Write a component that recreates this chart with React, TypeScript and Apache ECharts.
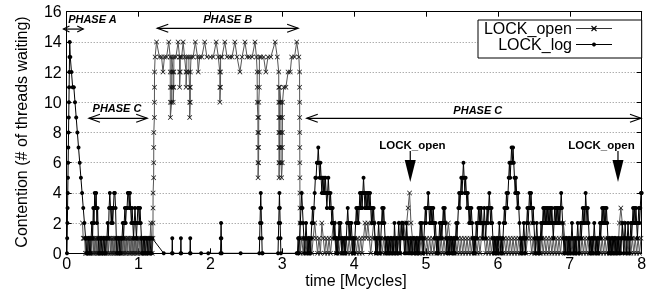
import { useEffect, useRef } from "react";
import * as echarts from "echarts";

// Each segment: [start time (Mcycles), time step, samples].
// Sample chars: 0-9, a-e = 10-14 threads; "." = empty slot; "[...]" = several samples in one slot.
type Seg = [number, number, string];

const xTicks = [0, 1, 2, 3, 4, 5, 6, 7, 8];
const yTicks = [0, 2, 4, 6, 8, 10, 12, 14, 16];

const logPhaseA: Seg[] = [
  [0.004, 0.0027, "0123456789abcde"],
  [0.05, 0.0164, "dcbba9876543210"],
];
const logPhaseC1: Seg[] = [
  [0.29, 0.01, "0110012132 4342310011 0011001121 3432323443 1001100112 1232334434 3232123212 3323210011 00110011001"],
];
const logPhaseB: Seg[] = [
  [1.35, 0.01, "0"],
  [1.465, 0.004, "010"],
  [1.585, 0.004, "010"],
  [1.715, 0.004, "010"],
  [1.87, 0.01, "0"],
  [1.97, 0.01, "0"],
  [2.14, 0.004, "01210"],
  [2.42, 0.01, "0"],
  [2.68, 0.005, "0123432100"],
  [2.94, 0.005, "012343210"],
];
const logPhaseC2: Seg[] = [
  [3.2, 0.01,
    "0010123432 1012101010 1232345566 7656545454 5434543432 3212101012 1210110101 2321212101 " +
    "0123232343 4345434343 4343232321 0101210123 2321010101 0110102101 0121012121 0102101010 " +
    "1011010101 0121210123 2334323232 3212101012 1212323210 1010110101 0121234345 4565454343 " +
    "2323210101 2123232321 2321232343 2321010101 0121010123 2343456567 6765454343 2101012101 " +
    "2323434323 2101210101 2123232323 2323232123 2323232343 2101011010 1012101010 1210121232 " +
    "3243232101 0101210101 0121232323 2321010101 0110101010 1012101210 1210121232 3232123234 4"],
];

const openPhaseC1: Seg[] = [
  [0.22, 0.01, "2111010101 0101101010 1010101101 0101010110 1010101010 1101010101 0101101010 1010101011 0101010101 1010121"],
];
const openPhaseB: Seg[] = [
  [1.19, 0.01,
    "0 [1234][5678][9abc]d.e...d ..d.c.d..d ..e.[dcba9].[abcd].[cba][bcd] ..d..e.[dcb][cd]. " +
    "d.e.d.[cb][cd].. [dc][ba9][abc]d..d..e ..dc.d..d. ..e..d.... d...d...e. .d.[cba][bcd].d... " +
    "e..d...d.. d...e..d.. .c..d...e. .d..d...d. ..e.d[cba][98765][6789a][bcd]. d...d..c.. " +
    "d...d..... e..d.[cba98765][6789ab].[a9876]5 [6789a].b..b..c. .c.d...d.. e..d[cba987654321]0"],
];
const openPhaseC2: Seg[] = [
  [3.27, 0.02,
    "10101 01012 10102 10101 01210 10101 01010 10101 01012 12101 21010 10101 01010 10102 12123 " +
    "42101 01010 10101 01010 10101 01210 10101 01010 10101 01010 12101 01010 10101 01010 10101 " +
    "01010 10121 01010 10101 01010 10101 01210 10101 01010 10101 01010 10101 01010 10101 02321 " +
    "01010 10101 01"],
];

const seriesNames = ["LOCK_open", "LOCK_log"];

function decode(segs: Seg[]): number[][] {
  const out: number[][] = [];
  for (const [x0, step, s] of segs) {
    let k = 0;
    let inGroup = false;
    let g = 0;
    for (const ch of s) {
      if (ch === " ") continue;
      if (ch === "[") { inGroup = true; g = 0; continue; }
      if (ch === "]") { inGroup = false; k++; continue; }
      if (ch === ".") { k++; continue; }
      const v = parseInt(ch, 16);
      const x = x0 + k * step + (inGroup ? g * step * 0.06 : 0);
      out.push([+x.toFixed(5), v]);
      if (inGroup) g++; else k++;
    }
  }
  return out;
}

const X_PATH = "path://M0,1L1,0L5,4L9,0L10,1L6,5L10,9L9,10L5,6L1,10L0,9L4,5Z";
const FONT = "'Liberation Sans', Arial, Helvetica, sans-serif";

export default function App() {
  const ref = useRef<HTMLDivElement>(null);
  useEffect(() => {
    const chart = echarts.init(ref.current!, null, { renderer: "svg" });
    const openData = decode([...openPhaseC1, ...openPhaseB, ...openPhaseC2]);
    const logData = decode([...logPhaseA, ...logPhaseC1, ...logPhaseB, ...logPhaseC2]);
    const axisLine = { show: true, onZero: false, lineStyle: { color: "#000", width: 1 } };
    const tick = { show: true, inside: true, length: 5, lineStyle: { color: "#000", width: 1 } };
    chart.setOption({
      animation: false,
      grid: { left: 66.7, right: 15.3, top: 11.7, bottom: 40.7, containLabel: false, outerBoundsMode: "none" },
      xAxis: [
        {
          type: "value", min: xTicks[0], max: xTicks[xTicks.length - 1], interval: 1, position: "bottom",
          axisLine, axisTick: tick,
          axisLabel: { color: "#000", fontSize: 16, fontFamily: FONT, margin: 2 },
          splitLine: { show: false },
        },
        {
          type: "value", min: xTicks[0], max: xTicks[xTicks.length - 1], interval: 1, position: "top",
          axisLine, axisTick: tick, axisLabel: { show: false }, splitLine: { show: false },
        },
      ],
      yAxis: [
        {
          type: "value", min: yTicks[0], max: yTicks[yTicks.length - 1], interval: 2, position: "left",
          axisLine, axisTick: tick,
          axisLabel: { color: "#000", fontSize: 16, fontFamily: FONT, margin: 5 },
          splitLine: { show: true, lineStyle: { color: "#8a8a8a", width: 1, type: [1, 2] } },
        },
        {
          type: "value", min: yTicks[0], max: yTicks[yTicks.length - 1], interval: 2, position: "right",
          axisLine, axisTick: tick, axisLabel: { show: false }, splitLine: { show: false },
        },
      ],
      series: [
        {
          name: seriesNames[0], type: "line", data: openData, silent: true,
          symbol: X_PATH, symbolSize: 5, showSymbol: true, showAllSymbol: true,
          lineStyle: { color: "#555", width: 1 }, itemStyle: { color: "#111" },
          emphasis: { disabled: true }, z: 2,
        },
        {
          name: seriesNames[1], type: "line", data: logData, silent: true,
          symbol: "circle", symbolSize: 4, showSymbol: true, showAllSymbol: true,
          lineStyle: { color: "#000", width: 1 }, itemStyle: { color: "#000" },
          emphasis: { disabled: true }, z: 3,
        },
      ],
    });

    const P = (x: number, y: number) =>
      chart.convertToPixel({ xAxisIndex: 0, yAxisIndex: 0 }, [x, y]) as number[];
    const g: any[] = [];
    const txt = (t: string, x: number, y: number, font: any, align = "center", extra: any = {}) =>
      g.push({
        type: "text", x, y, z: 100, ...extra,
        style: { text: t, fill: "#000", fontFamily: FONT, align, verticalAlign: "middle", ...font },
      });
    const dbl = (x1: number, x2: number, y: number, hl: number, hw: number) => {
      const a = P(x1, y), b = P(x2, y);
      const st = { stroke: "#000", lineWidth: 1.2, fill: null };
      g.push({ type: "line", z: 100, shape: { x1: a[0], y1: a[1], x2: b[0], y2: b[1] }, style: st });
      g.push({ type: "polyline", z: 100, shape: { points: [[a[0] + hl, a[1] - hw], [a[0], a[1]], [a[0] + hl, a[1] + hw]] }, style: st });
      g.push({ type: "polyline", z: 100, shape: { points: [[b[0] - hl, b[1] - hw], [b[0], b[1]], [b[0] - hl, b[1] + hw]] }, style: st });
    };
    const phaseFont = { fontSize: 11, fontWeight: "bold", fontStyle: "italic" };
    let p = P(0.02, 15.5); txt("PHASE A", p[0], p[1], phaseFont, "left");
    p = P(2.24, 15.5); txt("PHASE B", p[0], p[1], phaseFont);
    p = P(0.7, 9.65); txt("PHASE C", p[0], p[1], phaseFont);
    p = P(5.72, 9.5); txt("PHASE C", p[0], p[1], phaseFont);
    dbl(-0.045, 0.23, 14.85, 6, 3);
    dbl(1.26, 3.22, 14.9, 11, 4);
    dbl(0.31, 1.12, 8.94, 11, 4);
    dbl(3.34, 7.99, 8.94, 11, 4);

    const lockFont = { fontSize: 11.5, fontWeight: "bold" };
    const lockArrow = (xt: number, xa: number) => {
      const t = P(xt, 7.2);
      txt("LOCK_open", t[0], t[1], lockFont);
      const s = P(xa, 6.77), h = P(xa, 6.18), tip = P(xa, 4.72);
      g.push({ type: "line", z: 100, shape: { x1: s[0], y1: s[1], x2: h[0], y2: h[1] }, style: { stroke: "#000", lineWidth: 1.2 } });
      g.push({ type: "polygon", z: 100, shape: { points: [[h[0] - 5.5, h[1]], [h[0] + 5.5, h[1]], [tip[0], tip[1]]] }, style: { fill: "#000" } });
    };
    lockArrow(4.81, 4.78);
    lockArrow(7.44, 7.67);

    // legend box
    g.push({ type: "rect", z: 100, shape: { x: 478, y: 20, width: 163.7, height: 38 }, style: { fill: "#fff", stroke: "#000", lineWidth: 1 } });
    txt(seriesNames[0], 572, 28.5, { fontSize: 16 }, "right");
    txt(seriesNames[1], 572, 44.5, { fontSize: 16 }, "right");
    g.push({ type: "line", z: 101, shape: { x1: 576, y1: 28.5, x2: 612, y2: 28.5 }, style: { stroke: "#333", lineWidth: 1 } });
    g.push({ type: "line", z: 101, shape: { x1: 576, y1: 44.5, x2: 612, y2: 44.5 }, style: { stroke: "#000", lineWidth: 1 } });
    g.push({ type: "polyline", z: 102, shape: { points: [[591.5, 26], [596.5, 31]] }, style: { stroke: "#000", lineWidth: 1.1, fill: null } });
    g.push({ type: "polyline", z: 102, shape: { points: [[591.5, 31], [596.5, 26]] }, style: { stroke: "#000", lineWidth: 1.1, fill: null } });
    g.push({ type: "circle", z: 102, shape: { cx: 594, cy: 44.5, r: 2 }, style: { fill: "#000" } });

    // axis titles
    txt("time [Mcycles]", 356, 280, { fontSize: 16 });
    txt("Contention (# of threads waiting)", 21, 132, { fontSize: 16 }, "center", { rotation: Math.PI / 2 });

    chart.setOption({ graphic: g });
    return () => chart.dispose();
  }, []);
  return <div ref={ref} style={{ position: "fixed", left: 0, top: 0, width: 657, height: 294 }} />;
}
